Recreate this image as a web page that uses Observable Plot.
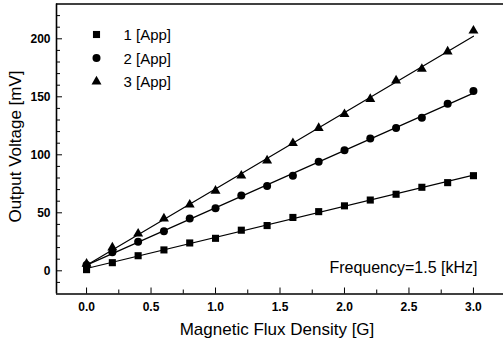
<!DOCTYPE html>
<html>
<head>
<meta charset="utf-8">
<script src="https://cdn.jsdelivr.net/npm/d3@7"></script>
<script src="https://cdn.jsdelivr.net/npm/@observablehq/plot@0.6"></script>
<style>
  body { margin: 0; background: #fff; }
  svg { display: block; }
</style>
</head>
<body>
<div id="chart"></div>
<script>
// Magnetic flux density [G] at which the output was sampled
const fluxDensity = [0, 0.2, 0.4, 0.6, 0.8, 1.0, 1.2, 1.4, 1.6, 1.8, 2.0, 2.2, 2.4, 2.6, 2.8, 3.0];

// Output voltage [mV] for each applied current
const voltageApp1 = [1, 7, 13, 18, 24, 28, 35, 39, 46, 51, 56, 61, 66, 72, 76, 82];
const voltageApp2 = [5, 16, 25, 34, 45, 54, 65, 73, 82, 94, 104, 114, 123, 132, 144, 155];
const voltageApp3 = [6, 20, 32, 45, 57, 69, 82, 95, 110, 123, 135, 148, 164, 174, 189, 207];

const seriesNames = ["1 [App]", "2 [App]", "3 [App]"];
const seriesSymbols = ["square", "circle", "triangle"];
const seriesRadius = [4, 4, 3.7];
const seriesValues = [voltageApp1, voltageApp2, voltageApp3];

// Axis ticks
const xDomain = [-0.233, 3.233];
const yDomain = [-20, 230];
const xTicks = [0, 0.5, 1.0, 1.5, 2.0, 2.5, 3.0];
const xMinorTicks = [0.25, 0.75, 1.25, 1.75, 2.25, 2.75];
const yTicks = [0, 50, 100, 150, 200];
const yMinorTicks = [-10, 10, 20, 30, 40, 60, 70, 80, 90, 110, 120, 130, 140, 160, 170, 180, 190, 210, 220];

const rows = seriesNames.flatMap((name, i) =>
  fluxDensity.map((b, j) => ({series: name, b, v: seriesValues[i][j]}))
);

const legendMarks = seriesNames.flatMap((name, i) => [
  Plot.dot([name], {
    frameAnchor: "top-left", dx: 40, dy: 30.5 + i * 23.5,
    symbol: seriesSymbols[i], r: seriesRadius[i], fill: "black", stroke: "none"
  }),
  Plot.text([name], {
    frameAnchor: "top-left", dx: 67, dy: 31.5 + i * 23.5,
    textAnchor: "start", lineAnchor: "middle", fontSize: 15, fill: "black"
  })
]);

const dataMarks = seriesNames.map((name, i) =>
  Plot.dot(rows.filter(d => d.series === name), {
    x: "b", y: "v", symbol: seriesSymbols[i], r: seriesRadius[i], fill: "black", stroke: "none"
  })
);

const chart = Plot.plot({
  width: 503,
  height: 343,
  marginLeft: 56,
  marginRight: 0,
  marginTop: 3.5,
  marginBottom: 49.5,
  style: {fontFamily: "'Liberation Sans', Arial, sans-serif", color: "black", background: "white"},
  x: {domain: xDomain},
  y: {domain: yDomain},
  marks: [
    // fitted lines
    Plot.linearRegressionY(rows, {x: "b", y: "v", z: "series", stroke: "black", strokeWidth: 1.2, ci: 0}),
    ...dataMarks,
    // axes frame (left, top, bottom)
    Plot.ruleX([xDomain[0]], {stroke: "black", strokeWidth: 1.6}),
    Plot.ruleY(yDomain, {stroke: "black", strokeWidth: 1.6}),
    Plot.axisX({ticks: xTicks, tickSize: -6, tickPadding: 14, tickFormat: d3.format(".1f"), fontSize: 12, fontWeight: "bold", label: null}),
    Plot.axisX({ticks: xMinorTicks, tickSize: -4, tickFormat: () => "", label: null}),
    Plot.axisY({ticks: yTicks, tickSize: -6, tickPadding: 12, tickFormat: d3.format("d"), fontSize: 12, fontWeight: "bold", label: null}),
    Plot.axisY({ticks: yMinorTicks, tickSize: -4, tickFormat: () => "", label: null}),
    // axis titles
    Plot.text(["Magnetic Flux Density [G]"], {frameAnchor: "bottom", dx: -3, dy: 36, textAnchor: "middle", lineAnchor: "middle", fontSize: 17, fill: "black"}),
    Plot.text(["Output Voltage [mV]"], {frameAnchor: "left", dx: -41, dy: -2.5, rotate: -90, textAnchor: "middle", lineAnchor: "middle", fontSize: 17, fill: "black"}),
    // annotation
    Plot.text(["Frequency=1.5 [kHz]"], {frameAnchor: "bottom-right", dx: -26, dy: -26, textAnchor: "end", lineAnchor: "middle", fontSize: 16, fill: "black"}),
    ...legendMarks
  ]
});

document.getElementById("chart").appendChild(chart);
</script>
</body>
</html>
